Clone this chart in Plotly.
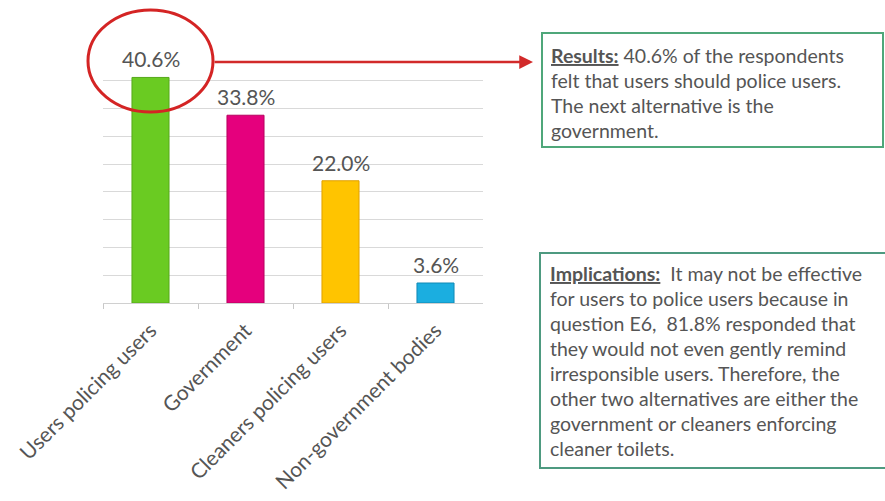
import plotly.graph_objects as go

# Survey results: who should enforce clean toilets
categories = ["Users policing users", "Government", "Cleaners policing users", "Non-government bodies"]
shares = [40.6, 33.8, 22.0, 3.6]
bar_colors = ["#6ACB22", "#E5007D", "#FFC400", "#1BAEE0"]
bar_edges = ["#56A81A", "#B8005F", "#E0A000", "#1189B5"]

results_lines = [
    "<b><u>Results:</u></b> 40.6% of the respondents",
    "felt that users should police users.",
    "The next alternative is the",
    "government.",
]
implication_lines = [
    "<b><u>Implications:</u></b>  It may not be effective",
    "for users to police users because in",
    "question E6,  81.8% responded that",
    "they would not even gently remind",
    "irresponsible users. Therefore, the",
    "other two alternatives are either the",
    "government or cleaners enforcing",
    "cleaner toilets.",
]

W, H = 885, 501


def px(x):
    return x / W


def py(y):
    return 1 - y / H


FONT = "Lato, 'Open Sans', sans-serif"
TEXT_GREY = "#555555"

fig = go.Figure(
    go.Bar(
        x=categories,
        y=shares,
        width=0.39,
        marker=dict(color=bar_colors, line=dict(color=bar_edges, width=1)),
        hoverinfo="skip",
    )
)

annotations = []
# value labels above each bar
for c, v in zip(categories, shares):
    annotations.append(dict(
        x=c, y=v, xref="x", yref="y", text=f"{v:.1f}%", showarrow=False,
        yanchor="bottom", yshift=4,
        font=dict(family=FONT, size=21, color=TEXT_GREY),
    ))

# callout text boxes
def text_block(lines, x_left, y_first, step):
    for i, line in enumerate(lines):
        annotations.append(dict(
            x=px(x_left), y=py(y_first + i * step), xref="paper", yref="paper",
            text=line, showarrow=False, xanchor="left", yanchor="middle",
            font=dict(family=FONT, size=19.5, color=TEXT_GREY),
        ))

text_block(results_lines, 549, 55, 25)
text_block(implication_lines, 548, 273, 25.1)

# arrow from the highlighted bar to the results box
annotations.append(dict(
    x=px(533), y=py(62), xref="paper", yref="paper", text="",
    showarrow=True, ax=-(533 - 213), ay=0, axref="pixel", ayref="pixel",
    arrowhead=2, arrowsize=1.1, arrowwidth=2.5, arrowcolor="#D22A2A",
))

shapes = [
    # highlight ring round the top bar label
    dict(type="circle", xref="paper", yref="paper",
         x0=px(88), x1=px(213), y0=py(112), y1=py(10),
         line=dict(color="#D42424", width=3)),
    # results box
    dict(type="rect", xref="paper", yref="paper",
         x0=px(542), x1=px(883), y0=py(147), y1=py(33),
         line=dict(color="#4FA77A", width=2)),
    # implications box
    dict(type="rect", xref="paper", yref="paper",
         x0=px(540), x1=px(890), y0=py(468), y1=py(253),
         line=dict(color="#4E9A80", width=2)),
]

fig.update_layout(
    width=W, height=H,
    margin=dict(l=0, r=0, t=0, b=0, autoexpand=False),
    paper_bgcolor="white", plot_bgcolor="white",
    showlegend=False,
    annotations=annotations,
    shapes=shapes,
    bargap=0.61,
    xaxis=dict(
        domain=[px(103), px(483)],
        automargin=False,
        showline=True, linecolor="#D0D0D0", linewidth=1,
        ticks="outside", tickson="boundaries", ticklen=5, tickcolor="#C8C8C8",
        tickangle=-45, ticklabelstandoff=6,
        tickfont=dict(family=FONT, size=21, color=TEXT_GREY),
        showgrid=False, fixedrange=True,
    ),
    yaxis=dict(
        domain=[py(303), py(53)],
        automargin=False,
        range=[0, 45], dtick=5,
        showgrid=True, gridcolor="#D9D9D9", gridwidth=1,
        showticklabels=False, zeroline=False, showline=False,
        fixedrange=True,
    ),
)

fig.write_html("out.html")
